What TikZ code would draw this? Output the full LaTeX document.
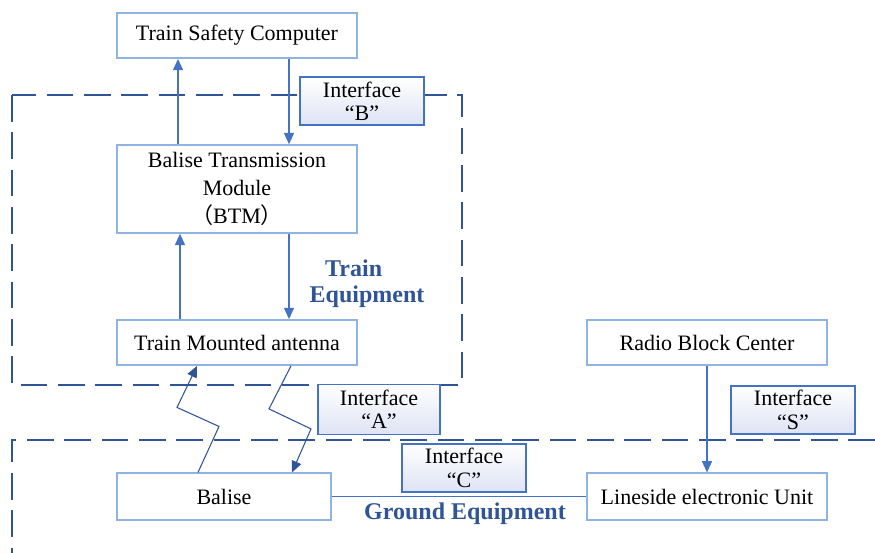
\documentclass[tikz,border=0pt]{standalone}
\usepackage{fontspec}
\setmainfont{Liberation Serif}
\newfontfamily\cjk{Noto Sans CJK SC}
\usepackage{xcolor}
\usetikzlibrary{arrows.meta}

\definecolor{boxline}{RGB}{143,180,227}
\definecolor{arrowblue}{RGB}{68,114,196}
\definecolor{zoneblue}{RGB}{47,85,151}
\definecolor{ifshade}{RGB}{222,227,244}

\tikzset{
  unit/.style={draw=boxline, line width=1.1pt, fill=white, minimum width=180pt,
    minimum height=34pt, align=center, inner sep=2pt,
    font=\fontsize{16.5}{20}\selectfont},
  iface/.style={draw=arrowblue, line width=1pt, top color=white, bottom color=ifshade,
    minimum width=93pt, minimum height=36pt, align=center, inner sep=1pt,
    font=\fontsize{16.5}{17.5}\selectfont},
  link/.style={arrowblue, line width=1.1pt, -{Triangle[length=8.5pt,width=7.5pt]}},
  wave/.style={zoneblue, line width=0.8pt, -{Triangle[length=8.5pt,width=7.5pt]}},
  zone/.style={zoneblue, line width=1.4pt, dash pattern=on 20pt off 8pt},
  zonelabel/.style={text=zoneblue, align=center, font=\bfseries\fontsize{18}{19.5}\selectfont}
}

\begin{document}
\begin{tikzpicture}[x=0.75pt, y=-0.75pt]
\useasboundingbox (0,0) rectangle (875,553);
% dashed zones
\draw[zone] (12,95) rectangle (462,385);
\draw[zone] (875,440) -- (12,440) -- (12,553);

% train side
\node[unit] (tsc) at (237,35.5) {Train Safety Computer};
\node[unit, minimum height=66pt] (btm) at (237,189)
  {Balise Transmission\\[1pt] Module\\[1pt] {\cjk （}BTM{\cjk ）}};
\node[unit] (tma) at (237,342.5) {Train Mounted antenna};
\node[zonelabel] (trainlbl) at (367,284) {\hspace*{-20pt}Train\\ Equipment};

% ground side
\node[unit] (rbc) at (707,342.5) {Radio Block Center};
\node[unit, minimum width=160.5pt, minimum height=35pt] (balise) at (224,496.5) {Balise};
\node[unit, minimum height=35pt] (leu) at (707,496.5) {Lineside electronic Unit};
\node[zonelabel] (groundlbl) at (465,514) {Ground Equipment};

% interfaces
\node[iface] (ifb) at (362,101) {Interface\\ ``B''};
\node[iface, minimum width=91.5pt, minimum height=37.5pt] (ifa) at (379,409.5) {Interface\\ ``A''};
\node[iface] (ifc) at (464,468) {Interface\\ ``C''};
\node[iface] (ifs) at (793,410) {Interface\\ ``S''};

% connectors
\draw[link] ([xshift=39pt]tsc.south) -- ([xshift=39pt]btm.north);
\draw[link] ([xshift=-44.25pt]btm.north) -- ([xshift=-44.25pt]tsc.south);
\draw[link] ([xshift=39pt]btm.south) -- ([xshift=39pt]tma.north);
\draw[link] ([xshift=-42.75pt]tma.north) -- ([xshift=-42.75pt]btm.south);
\draw[link] (rbc) -- (leu);
\draw[arrowblue, line width=1.1pt] (balise) -- (leu);

% radio links
\draw[wave] ([xshift=-19.5pt]balise.north) -- ++(21,-46) -- ++(-42,-19)
  -- ([xshift=-30pt]tma.south);
\draw[wave] ([xshift=40.5pt]tma.south) -- ++(-22,43) -- ++(42,20)
  -- ([xshift=51pt]balise.north);
\end{tikzpicture}
\end{document}
